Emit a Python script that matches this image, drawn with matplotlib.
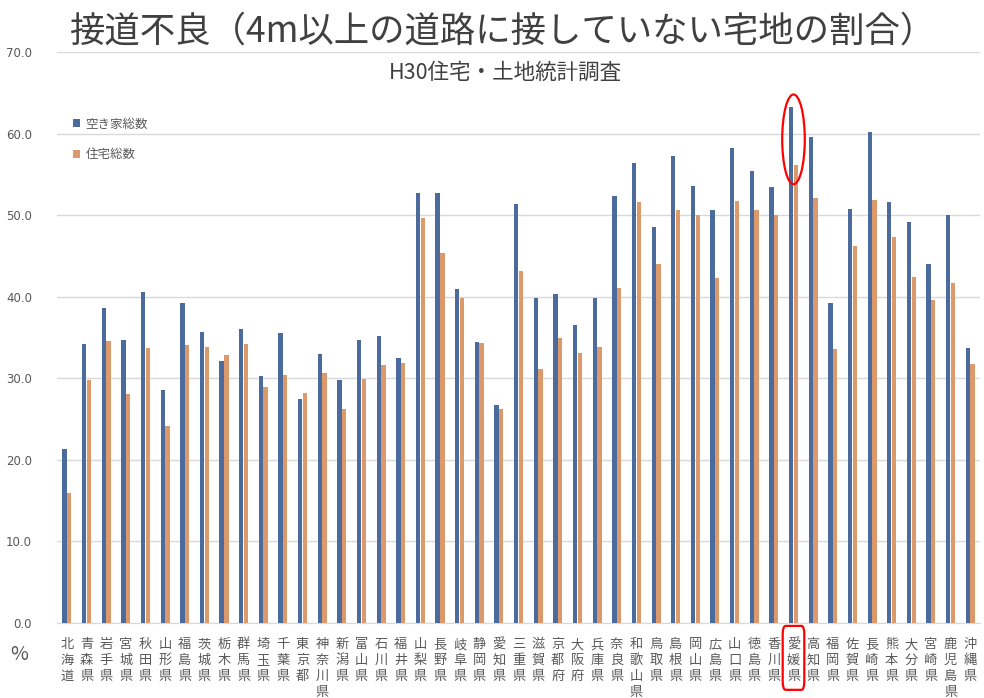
import matplotlib.pyplot as plt
import numpy as np
from matplotlib.patches import Ellipse, FancyBboxPatch
from matplotlib.transforms import blended_transform_factory

plt.rcParams['font.family'] = ['Noto Sans CJK JP', 'DejaVu Sans']

prefs = ["北海道", "青森県", "岩手県", "宮城県", "秋田県", "山形県", "福島県",
         "茨城県", "栃木県", "群馬県", "埼玉県", "千葉県", "東京都", "神奈川県",
         "新潟県", "富山県", "石川県", "福井県", "山梨県", "長野県", "岐阜県",
         "静岡県", "愛知県", "三重県", "滋賀県", "京都府", "大阪府", "兵庫県",
         "奈良県", "和歌山県", "鳥取県", "島根県", "岡山県", "広島県", "山口県",
         "徳島県", "香川県", "愛媛県", "高知県", "福岡県", "佐賀県", "長崎県",
         "熊本県", "大分県", "宮崎県", "鹿児島県", "沖縄県"]

# 空き家総数
akiya = [21.3, 34.2, 38.6, 34.7, 40.6, 28.6, 39.2,
         35.7, 32.1, 36.1, 30.3, 35.6, 27.5, 33.0,
         29.8, 34.7, 35.2, 32.5, 52.7, 52.7, 41.0,
         34.4, 26.7, 51.4, 39.8, 40.4, 36.5, 39.8,
         52.4, 56.4, 48.5, 57.2, 53.6, 50.6, 58.3,
         55.4, 53.4, 63.3, 59.6, 39.2, 50.8, 60.2,
         51.6, 49.2, 44.0, 50.0, 33.7]

# 住宅総数
jutaku = [15.9, 29.8, 34.6, 28.1, 33.7, 24.2, 34.1,
          33.9, 32.8, 34.2, 28.9, 30.4, 28.2, 30.6,
          26.2, 29.9, 31.6, 31.9, 49.6, 45.4, 39.8,
          34.3, 26.2, 43.1, 31.2, 34.9, 33.1, 33.8,
          41.1, 51.6, 44.0, 50.6, 50.0, 42.3, 51.7,
          50.6, 50.0, 56.1, 52.1, 33.6, 46.2, 51.9,
          47.3, 42.4, 39.6, 41.7, 31.8]

highlight = "愛媛県"

color_akiya = '#4a6b9c'
color_jutaku = '#dc9a6c'
gray = '#595959'

fig = plt.figure(figsize=(9.84, 6.98), dpi=100)
ax = fig.add_axes([0.058, 0.1074, 0.938, 0.818])

x = np.arange(len(prefs))
w = 0.22
ax.bar(x - 0.12, akiya, width=w, color=color_akiya, label='空き家総数', zorder=3)
ax.bar(x + 0.12, jutaku, width=w, color=color_jutaku, label='住宅総数', zorder=3)

ax.set_xlim(-0.5, len(prefs) - 0.5)
ax.set_ylim(0, 70)
ax.set_yticks(np.arange(0, 71, 10))
ax.set_yticklabels([f"{v:.1f}" for v in np.arange(0, 71, 10)], fontsize=8.5,
                   color=gray, family='DejaVu Sans')
ax.set_xticks(x)
ax.set_xticklabels(["\n".join(p) for p in prefs], fontsize=9.5, color=gray,
                   linespacing=1.3, va='top')
ax.tick_params(axis='both', length=0)
ax.tick_params(axis='y', pad=18)
ax.tick_params(axis='x', pad=11)
ax.grid(axis='y', color='#d9d9d9', linewidth=1, zorder=0)
for s in ['left', 'right', 'top']:
    ax.spines[s].set_visible(False)
ax.spines['bottom'].set_color('#d9d9d9')

ax.legend(loc='upper left', bbox_to_anchor=(0.005, 0.905), frameon=False,
          fontsize=9, labelcolor=gray, handlelength=0.6, handleheight=0.6,
          handletextpad=0.4, labelspacing=1.4)

# highlight
hi = prefs.index(highlight)
ell = Ellipse((hi, 59.3), width=1.15, height=11.0, fill=False, edgecolor='red',
              linewidth=1.6, zorder=5, clip_on=False)
ax.add_patch(ell)
trans = blended_transform_factory(ax.transData, ax.transAxes)
box = FancyBboxPatch((hi - 0.55, -0.117), 1.1, 0.112,
                     boxstyle="round,pad=0,rounding_size=0.15",
                     fill=False, edgecolor='red', linewidth=1.6,
                     transform=trans, clip_on=False, mutation_aspect=0.1)
ax.add_patch(box)

fig.text(0.510, 0.955, "接道不良（4m以上の道路に接していない宅地の割合）",
         ha='center', va='center', fontsize=25.5, color='#404040')
fig.text(0.514, 0.896, "H30住宅・土地統計調査", ha='center', va='center',
         fontsize=15.5, color='#404040')
fig.text(0.02, 0.062, "%", ha='center', va='center', fontsize=14, color=gray)

fig.savefig("out.png", dpi=100)
